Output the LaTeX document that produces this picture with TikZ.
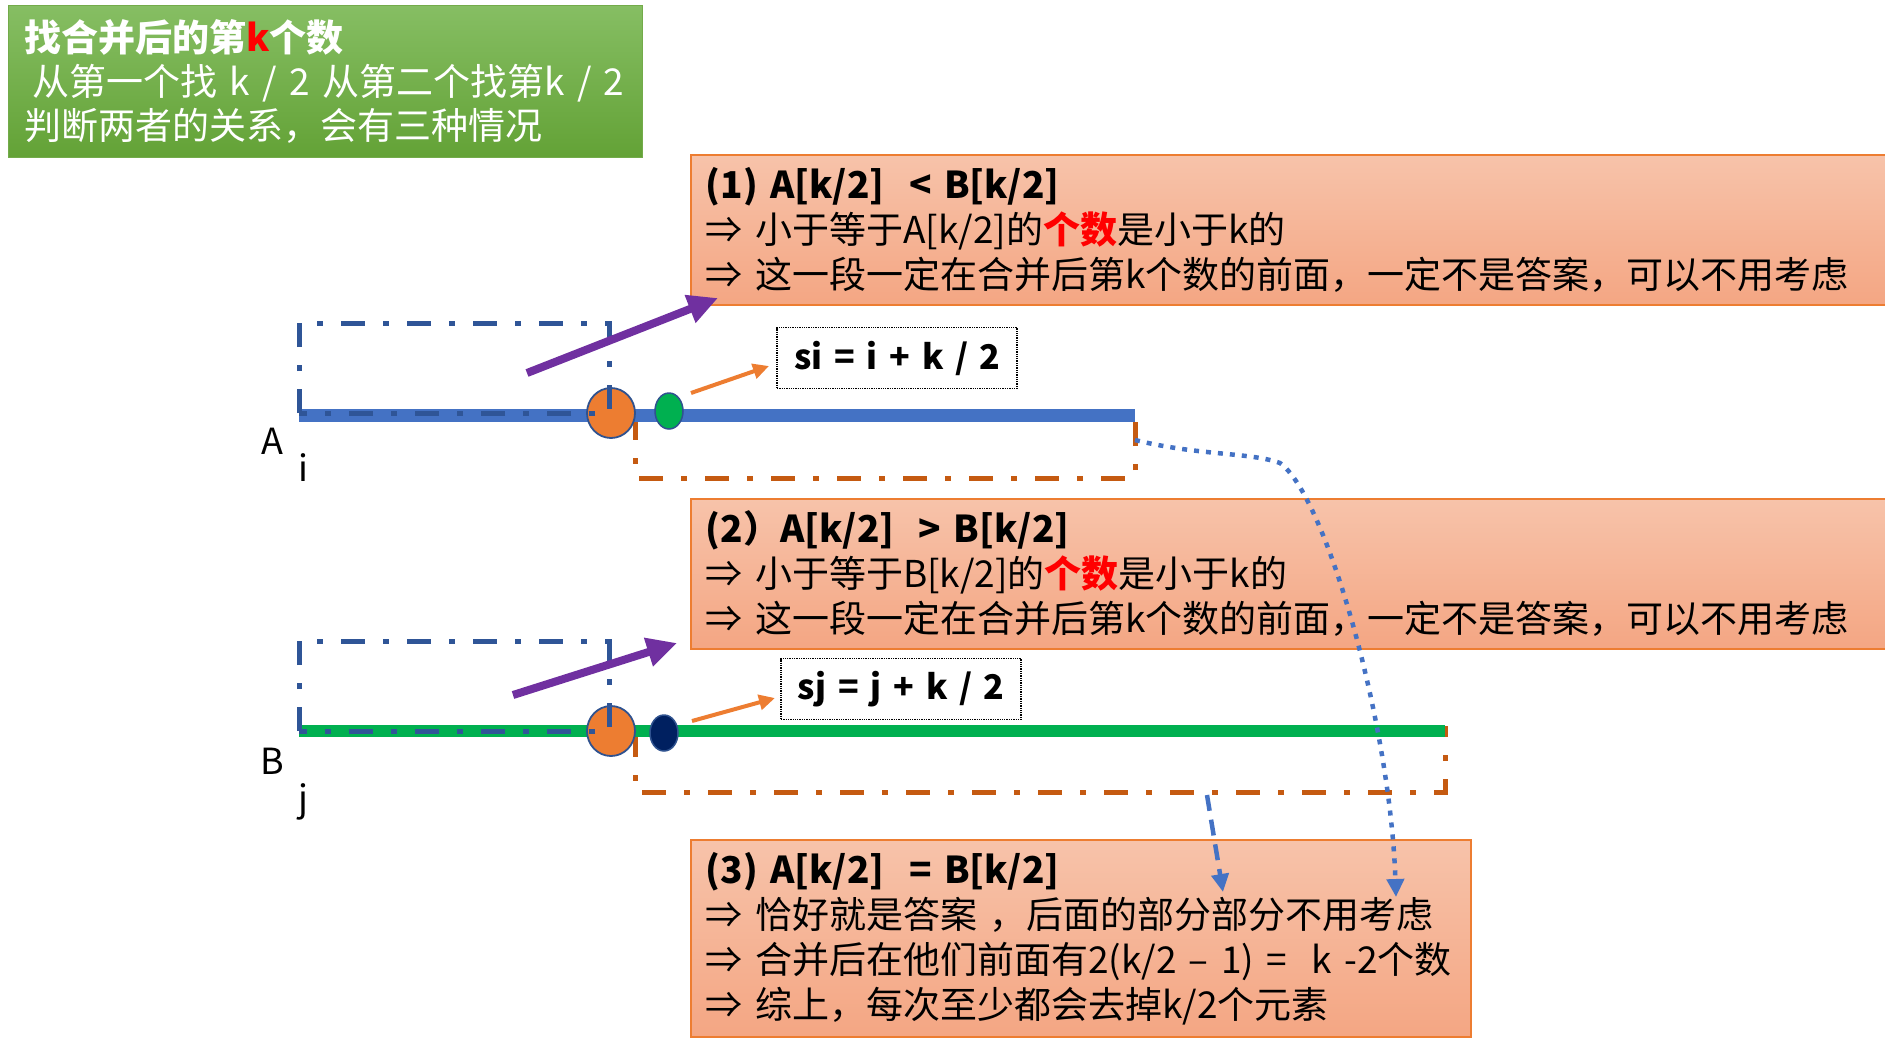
\documentclass[tikz,border=0pt]{standalone}
\usepackage{fontspec}
\setmainfont{Noto Sans CJK SC}
\usetikzlibrary{arrows.meta,shapes.geometric}
\definecolor{lineblue}{HTML}{4472C4}
\definecolor{dashblue}{HTML}{2F5597}
\definecolor{dotorange}{HTML}{ED7D31}
\definecolor{rimblue}{HTML}{2F528F}
\definecolor{lgreen}{HTML}{00B050}
\definecolor{navy}{HTML}{002060}
\definecolor{purp}{HTML}{7030A0}
\definecolor{dashorange}{HTML}{C55A11}
\definecolor{otop}{HTML}{F7C3AA}
\definecolor{obot}{HTML}{F4A683}
\definecolor{gtop}{HTML}{86BE63}
\definecolor{gbot}{HTML}{63A236}
\begin{document}
\begin{tikzpicture}[x=1pt,y=-1pt,
  obox/.style={draw=dotorange, line width=1.5pt, top color=otop, bottom color=obot,
    anchor=north west, align=left, inner xsep=15pt, inner ysep=0pt,
    font=\fontsize{37}{45}\selectfont, text=black},
  gbox/.style={draw=gbot!90!white, line width=1pt, top color=gtop, bottom color=gbot,
    anchor=north west, align=left, inner xsep=16pt, inner ysep=0pt,
    font=\fontsize{37}{44}\selectfont, text=white},
  lbl/.style={font=\fontsize{36}{40}\selectfont, inner sep=0pt},
  fbox/.style={draw=black, densely dotted, line width=1.3pt, inner sep=0pt,
    minimum width=240pt, minimum height=61pt, font=\fontsize{34}{40}\selectfont\bfseries},
  bdash/.style={draw=dashblue, line width=5pt, line cap=butt,
    dash pattern=on 24pt off 18pt on 6pt off 18pt},
  odash/.style={draw=dashorange, line width=5pt, line cap=butt,
    dash pattern=on 24pt off 18pt on 6pt off 18pt},
  bigdot/.style={ellipse, draw=rimblue, line width=1.8pt, fill=dotorange,
    minimum width=48pt, minimum height=50pt, inner sep=0pt},
  smalldot/.style={ellipse, draw=rimblue, line width=1.5pt,
    minimum width=28pt, minimum height=36pt, inner sep=0pt},
  parrow/.style={draw=purp, line width=8pt, -{Triangle[length=30pt,width=28pt]}},
  oarrow/.style={draw=dotorange, line width=4pt, -{Triangle[length=16pt,width=15pt]}},
  barrow/.style={draw=lineblue, line width=4.5pt, -{Triangle[length=18pt,width=17pt]}}
]
\useasboundingbox (0,0) rectangle (1885,1050);

% title box
\node[gbox, text width=602pt, minimum height=152pt] (title) at (8,5)
  {\mbox{\bfseries 找合并后的第\textcolor{red}{k}个数}\\
   \mbox{\hspace*{8pt}从第一个找 k / 2 从第二个找第k / 2}\\
   \mbox{判断两者的关系，会有三种情况}};

% case boxes
\node[obox, text width=1165pt, minimum height=150pt] (c1) at (690,154)
  {\mbox{\bfseries (1) A[k/2]\ \ < B[k/2]}\\
   \mbox{⇒ 小于等于A[k/2]的\textcolor{red}{\bfseries 个数}是小于k的}\\
   \mbox{⇒ 这一段一定在合并后第k个数的前面，一定不是答案，可以不用考虑}};
\node[obox, text width=1165pt, minimum height=150pt] (c2) at (690,498)
  {\mbox{\bfseries (2）A[k/2]\ \ > B[k/2]}\\
   \mbox{⇒ 小于等于B[k/2]的\textcolor{red}{\bfseries 个数}是小于k的}\\
   \mbox{⇒ 这一段一定在合并后第k个数的前面，一定不是答案，可以不用考虑}};
\node[obox, text width=750pt, minimum height=197pt] (c3) at (690,839)
  {\mbox{\bfseries (3) A[k/2]\ \ = B[k/2]}\\
   \mbox{⇒ 恰好就是答案 ，后面的部分部分不用考虑}\\
   \mbox{⇒ 合并后在他们前面有2(k/2 – 1) =\ \ k -2个数}\\
   \mbox{⇒ 综上，每次至少都会去掉k/2个元素}};

% labels
\node[lbl] (la) at (272,441) {A};
\node[lbl] (li) at (303,468) {i};
\node[lbl] (lb) at (272,761) {B};
\node[lbl] (lj) at (303,802) {j};

% ---------- array A ----------
\coordinate (a0) at (299,415);
\coordinate (a1) at (1135,415);
\draw[odash] (635,416) -- (635,478) -- (1135,478) -- (1135,418);
\draw[lineblue, line width=13pt] (a0) -- (a1);
\node[bigdot] (ka) at (611,413) {};
\node[smalldot, fill=lgreen] (sa) at (669,411) {};
\draw[bdash] (299,413) -- (299,323) -- (609,323) -- (609,413) -- cycle;
\node[fbox] (si) at (897,358) {si\hspace{12pt}=\hspace{12pt}i\hspace{12pt}+\hspace{12pt}k\hspace{11pt}/\hspace{11pt}2};
\coordinate (pa0) at (527,373);
\coordinate (pa1) at (718,298);
\draw[parrow] (pa0) -- (pa1);
\coordinate (oa0) at (691,393);
\coordinate (oa1) at (769,366);
\draw[oarrow] (oa0) -- (oa1);

% ---------- array B ----------
\coordinate (b0) at (299,731);
\coordinate (b1) at (1445,731);
\draw[odash] (635,733) -- (635,792) -- (1445,792) -- (1445,726);
\draw[lgreen, line width=12pt] (b0) -- (b1);
\node[bigdot] (kb) at (611,731) {};
\node[smalldot, fill=navy] (sb) at (664,733) {};
\draw[bdash] (299,731) -- (299,641) -- (609,641) -- (609,731) -- cycle;
\node[fbox] (sj) at (901,689) {sj\hspace{12pt}=\hspace{12pt}j\hspace{12pt}+\hspace{12pt}k\hspace{11pt}/\hspace{11pt}2};
\coordinate (pb0) at (513,695);
\coordinate (pb1) at (677,643);
\draw[parrow] (pb0) -- (pb1);
\coordinate (ob0) at (692,721);
\coordinate (ob1) at (775,698);
\draw[oarrow] (ob0) -- (ob1);

% ---------- blue connectors ----------
\coordinate (d0) at (1207,795);
\coordinate (d1) at (1223,892);
\draw[barrow, dash pattern=on 16pt off 9pt] (d0) -- (d1);
\coordinate (e0) at (1135,440);
\coordinate (em) at (1280,463);
\coordinate (e1) at (1396,897);
\draw[barrow, dash pattern=on 5pt off 7pt] (e0) .. controls (1200,456) and (1250,452) .. (em)
  .. controls (1325,495) and (1390,720) .. (e1);
\end{tikzpicture}
\end{document}
